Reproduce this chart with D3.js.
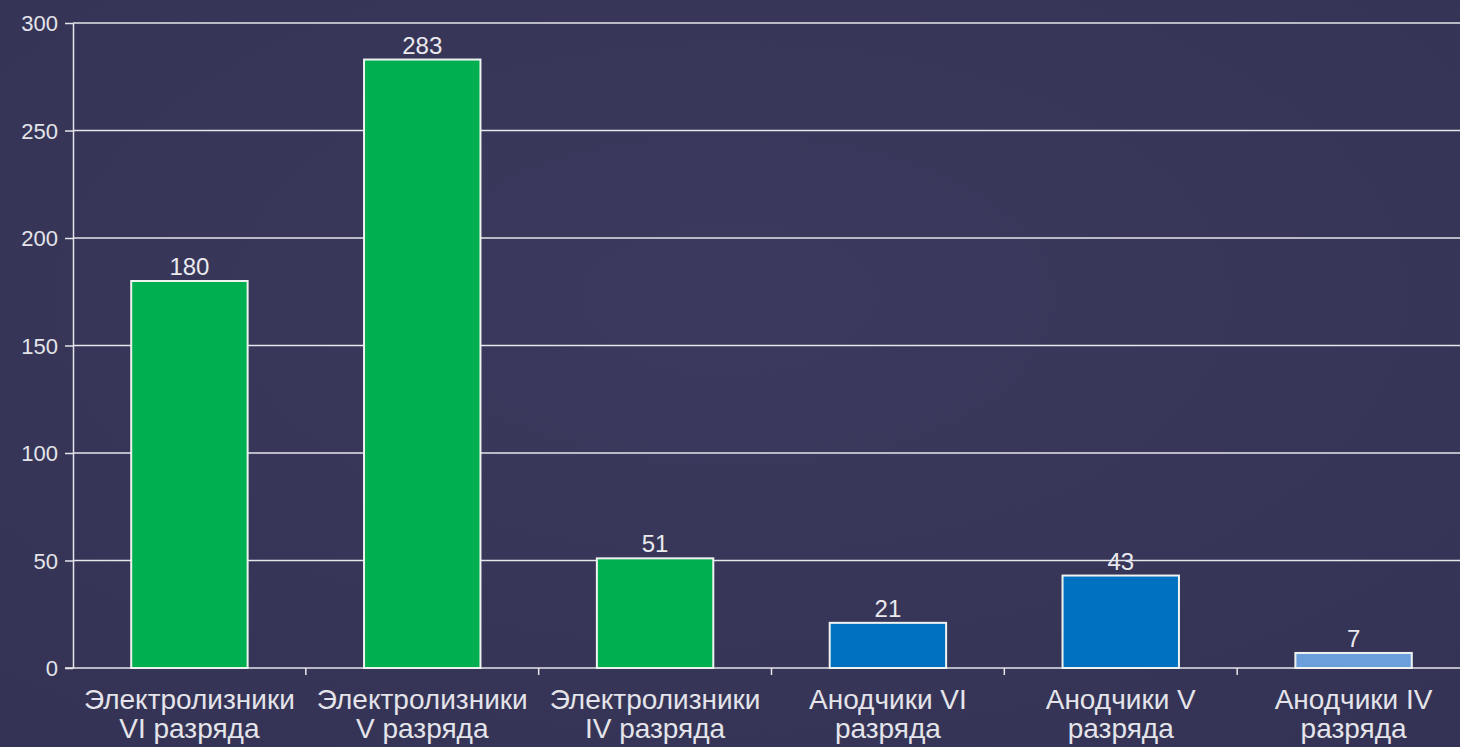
<!DOCTYPE html>
<html>
  <head>
    <meta charset="utf-8">
    <title>Электролизники и анодчики по разрядам</title>
    <style>
      body { margin: 0; background: #37365a; }
      .grid line { stroke: #e6e6ea; stroke-width: 1.5px; }
      .axis path, .axis line { stroke: #e6e6ea; stroke-width: 1.5px; }
      .axis text { fill: #e4e4ea; font-family: "Liberation Sans", Arial, sans-serif; font-size: 22px; }
      .bar { stroke: #eef3f0; stroke-width: 2px; }
      .value { fill: #eaeaee; font-family: "Liberation Sans", Arial, sans-serif; font-size: 24px; text-anchor: middle; }
      .cat { fill: #e4e4ea; font-family: "Liberation Sans", Arial, sans-serif; font-size: 28px; text-anchor: middle; }
    </style>
  </head>
  <body>
    <script src="https://d3js.org/d3.v7.min.js"></script>
    <script>
      const width = 1460;
      const height = 747;

      const categories = [
        ["Электролизники", "VI разряда"],
        ["Электролизники", "V разряда"],
        ["Электролизники", "IV разряда"],
        ["Анодчики VI", "разряда"],
        ["Анодчики V", "разряда"],
        ["Анодчики IV", "разряда"]
      ];
      const values = [180, 283, 51, 21, 43, 7];
      const colors = ["#00b050", "#00b050", "#00b050", "#0070c0", "#0070c0", "#6a9fdc"];
      const yTicks = [0, 50, 100, 150, 200, 250, 300];

      const svg = d3.select("body")
        .append("svg")
        .attr("width", width)
        .attr("height", height);

      // soft background shading
      const defs = svg.append("defs");
      const grad = defs.append("radialGradient").attr("id", "bg")
        .attr("cx", "50%").attr("cy", "40%").attr("r", "75%");
      grad.append("stop").attr("offset", "0%").attr("stop-color", "#3b3a5e");
      grad.append("stop").attr("offset", "100%").attr("stop-color", "#343355");
      svg.append("rect").attr("width", width).attr("height", height).attr("fill", "url(#bg)");

      const plotLeft = 73, plotRight = 1470, plotTop = 23, plotBottom = 668;

      const x = d3.scaleBand()
        .domain(d3.range(categories.length))
        .range([plotLeft, plotRight])
        .paddingInner(0.5)
        .paddingOuter(0.25);

      const y = d3.scaleLinear()
        .domain([0, 300])
        .range([plotBottom, plotTop]);

      // gridlines
      svg.append("g")
        .attr("class", "grid")
        .selectAll("line")
        .data(yTicks.filter(d => d > 0))
        .join("line")
        .attr("x1", plotLeft)
        .attr("x2", width)
        .attr("y1", d => y(d))
        .attr("y2", d => y(d));

      // y axis
      svg.append("g")
        .attr("class", "axis")
        .attr("transform", `translate(${plotLeft},0)`)
        .call(d3.axisLeft(y).tickValues(yTicks).tickSize(8).tickSizeOuter(0).tickPadding(7))
        .call(g => g.selectAll("text").attr("dy", "0.35em"));

      // x axis baseline with tick marks between categories
      const xAxis = svg.append("g").attr("class", "axis");
      xAxis.append("line")
        .attr("x1", plotLeft - 8).attr("x2", width)
        .attr("y1", plotBottom).attr("y2", plotBottom);
      const step = x.step();
      xAxis.selectAll(".sep")
        .data(d3.range(1, categories.length))
        .join("line")
        .attr("class", "sep")
        .attr("x1", d => plotLeft + d * step)
        .attr("x2", d => plotLeft + d * step)
        .attr("y1", plotBottom)
        .attr("y2", plotBottom + 7);

      // bars
      svg.selectAll(".bar")
        .data(values)
        .join("rect")
        .attr("class", "bar")
        .attr("x", (d, i) => x(i))
        .attr("width", x.bandwidth())
        .attr("y", d => y(d))
        .attr("height", d => plotBottom - y(d))
        .attr("fill", (d, i) => colors[i]);

      // value labels
      svg.selectAll(".value")
        .data(values)
        .join("text")
        .attr("class", "value")
        .attr("x", (d, i) => x(i) + x.bandwidth() / 2)
        .attr("y", d => y(d) - 6)
        .text(d => d);

      // category labels
      const cats = svg.selectAll(".cat")
        .data(categories)
        .join("text")
        .attr("class", "cat")
        .attr("x", (d, i) => x(i) + x.bandwidth() / 2)
        .attr("y", 709);
      cats.selectAll("tspan")
        .data(d => d)
        .join("tspan")
        .attr("x", function () { return d3.select(this.parentNode).attr("x"); })
        .attr("dy", (d, i) => i === 0 ? 0 : 29)
        .text(d => d);
    </script>
  </body>
</html>
